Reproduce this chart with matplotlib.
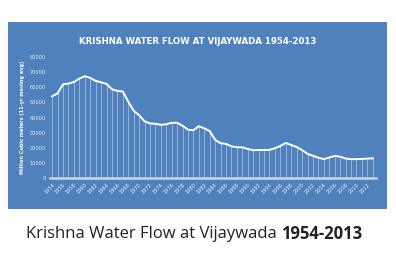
import matplotlib
matplotlib.use("Agg")
import matplotlib.pyplot as plt
from matplotlib.patches import Rectangle

years = list(range(1954, 2014))
flow = [
    54000, 56000, 62000, 62400, 63500, 65700, 67300, 66200, 64200, 63300,
    62200, 58700, 57600, 57200, 50500, 44500, 41500, 37500, 36100, 35800,
    35200, 35500, 36500, 36500, 34500, 32000, 31500, 34300, 32800, 31000,
    25200, 23000, 22500, 21000, 20300, 20300, 19200, 18400, 18500, 18500,
    18600, 19700, 21200, 23200, 21800, 20500, 18400, 16000, 14700, 13400,
    12500, 13500, 14600, 14100, 12900, 12400, 12500, 12600, 12800, 13000,
]
tick_years = list(range(1954, 2013, 2))
y_ticks = [0, 10000, 20000, 30000, 40000, 50000, 60000, 70000, 80000]

BLUE = "#4f81bd"
W, H = 396, 267

fig = plt.figure(figsize=(W / 100, H / 100), dpi=100, facecolor="white")

# blue panel behind everything
fig.patches.append(Rectangle((8 / W, 1 - 209 / H), 379 / W, 187 / H,
                             transform=fig.transFigure, facecolor=BLUE,
                             edgecolor="none", zorder=-5))

ax = fig.add_axes([50 / W, 1 - 178 / H, 325.7 / W, 121 / H])
ax.set_zorder(2)
ax.set_facecolor("none")
ax.set_xlim(1953.6, 2013.55)
ax.set_ylim(0, 80000)

ax.vlines(years, 0, flow, color="white", alpha=0.4, linewidth=0.7)
ax.plot(years, flow, color="white", linewidth=1.4, solid_joinstyle="round")
ax.axhline(0, color="#c8d6ea", linewidth=1.8, clip_on=False)

for s in ax.spines.values():
    s.set_visible(False)
ax.set_yticks(y_ticks)
ax.set_yticklabels([str(v) for v in y_ticks], fontsize=3.6, color="#e8eef7")
ax.set_xticks(tick_years)
ax.set_xticklabels([str(y) for y in tick_years], fontsize=3.6, color="#e8eef7",
                   rotation=45, ha="right", rotation_mode="anchor")
ax.tick_params(length=0, pad=3)
ax.set_ylabel("Million Cubic meters (11-yr moving avg)", fontsize=3.6,
              color="white", fontweight="bold", labelpad=3)

fig.text(198 / W, 1 - 42 / H, "KRISHNA WATER FLOW AT VIJAYWADA 1954-2013",
         ha="center", va="center", fontsize=6.2, fontweight="bold", color="white")

# caption with bold years
t1 = fig.text(26 / W, 1 - 234 / H, "Krishna Water Flow at Vijaywada ",
              ha="left", va="center", fontsize=12, color="#222222",
              family="Open Sans")
fig.canvas.draw()
bb = t1.get_window_extent(fig.canvas.get_renderer())
fig.text(bb.x1 / W, 1 - 234 / H, "1954-2013", ha="left", va="center",
         fontsize=12, color="#222222", family="Open Sans", fontweight="bold")

fig.savefig("out.png", dpi=100, facecolor="white")
